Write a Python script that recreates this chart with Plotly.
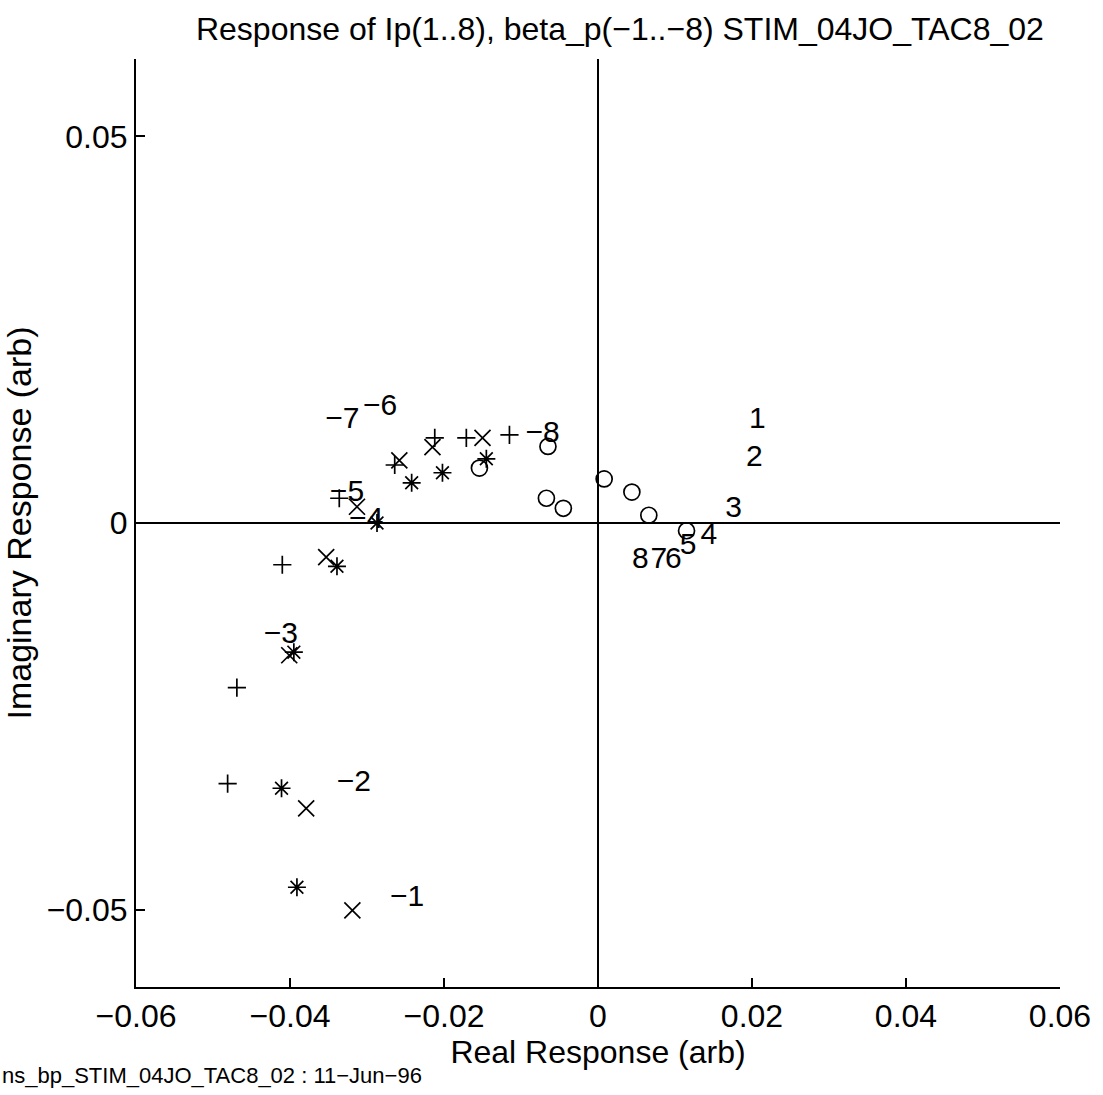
import plotly.graph_objects as go

# Ip(1..8) responses (open circles)
ip_re = [-0.0154, -0.0065, -0.0067, -0.0045, 0.0008, 0.0044, 0.0066, 0.0115]
ip_im = [0.0071, 0.0099, 0.0032, 0.0019, 0.0057, 0.0040, 0.0010, -0.0010]

# beta_p responses: three marker sets
plus_re = [-0.0481, -0.0469, -0.0410, -0.0336, -0.0264, -0.0212, -0.0171, -0.0115]
plus_im = [-0.0337, -0.0213, -0.0054, 0.0032, 0.0075, 0.0110, 0.0110, 0.0114]

x_re = [-0.0319, -0.0379, -0.0401, -0.0353, -0.0313, -0.0258, -0.0215, -0.0150]
x_im = [-0.0501, -0.0369, -0.0171, -0.0044, 0.0021, 0.0081, 0.0098, 0.0110]

ast_re = [-0.0391, -0.0411, -0.0395, -0.0339, -0.0287, -0.0242, -0.0202, -0.0145]
ast_im = [-0.0471, -0.0343, -0.0167, -0.0056, 0.0000, 0.0052, 0.0065, 0.0083]

# text labels
pos_labels = ["1", "2", "3", "4", "5", "6", "7", "8"]
pos_lab_re = [0.0207, 0.0203, 0.0176, 0.0144, 0.0117, 0.0098, 0.0079, 0.0055]
pos_lab_im = [0.0133, 0.0083, 0.0018, -0.0018, -0.0031, -0.0048, -0.0048, -0.0048]

neg_labels = ["\u22121", "\u22122", "\u22123", "\u22124", "\u22125", "\u22126", "\u22127", "\u22128"]
neg_lab_re = [-0.0248, -0.0317, -0.0412, -0.0301, -0.0326, -0.0283, -0.0332, -0.0072]
neg_lab_im = [-0.0485, -0.0337, -0.0146, 0.0003, 0.0038, 0.0149, 0.0132, 0.0115]

x_ticks = [-0.06, -0.04, -0.02, 0, 0.02, 0.04, 0.06]
x_ticktext = ["\u22120.06", "\u22120.04", "\u22120.02", "0", "0.02", "0.04", "0.06"]
y_ticks = [-0.05, 0, 0.05]
y_ticktext = ["\u22120.05", "0", "0.05"]

FONT = "Liberation Sans, Arial, Helvetica, sans-serif"
mk_line = dict(color="black", width=1.7)

fig = go.Figure()
fig.add_trace(go.Scatter(x=ip_re, y=ip_im, mode="markers",
                         marker=dict(symbol="circle-open", size=16, color="black", line=mk_line)))
fig.add_trace(go.Scatter(x=plus_re, y=plus_im, mode="markers",
                         marker=dict(symbol="cross-thin-open", size=13, color="black", line=mk_line)))
fig.add_trace(go.Scatter(x=x_re, y=x_im, mode="markers",
                         marker=dict(symbol="x-thin-open", size=16, color="black", line=mk_line)))
fig.add_trace(go.Scatter(x=ast_re, y=ast_im, mode="markers",
                         marker=dict(symbol="asterisk-open", size=15, color="black", line=mk_line)))
fig.add_trace(go.Scatter(x=pos_lab_re, y=pos_lab_im, mode="text", text=pos_labels,
                         textposition="middle center",
                         textfont=dict(family=FONT, size=30, color="black")))
fig.add_trace(go.Scatter(x=neg_lab_re, y=neg_lab_im, mode="text", text=neg_labels,
                         textposition="middle center",
                         textfont=dict(family=FONT, size=30, color="black")))

fig.update_layout(
    width=1103, height=1095,
    margin=dict(l=136, r=41, t=59, b=108),
    paper_bgcolor="white", plot_bgcolor="white",
    showlegend=False,
    font=dict(family=FONT, color="black", size=32),
    title=dict(text="Response of Ip(1..8), beta_p(\u22121..\u22128) STIM_04JO_TAC8_02",
               x=0.562, xanchor="center", y=0.984, yanchor="top",
               font=dict(size=32)),
    xaxis=dict(range=[-0.06, 0.06], tickvals=x_ticks, ticktext=x_ticktext,
               showgrid=False, zeroline=True, zerolinecolor="black", zerolinewidth=2,
               showline=True, linecolor="black", linewidth=2, mirror=False,
               ticks="inside", ticklen=9, tickwidth=2, tickcolor="black",
               tickfont=dict(size=32),
               title=dict(text="Real Response (arb)", font=dict(size=32), standoff=4)),
    yaxis=dict(range=[-0.06, 0.06], tickvals=y_ticks, ticktext=y_ticktext,
               showgrid=False, zeroline=True, zerolinecolor="black", zerolinewidth=2,
               showline=True, linecolor="black", linewidth=2, mirror=False,
               ticks="inside", ticklen=9, tickwidth=2, tickcolor="black",
               tickfont=dict(size=32),
               title=dict(text="Imaginary Response (arb)", font=dict(size=34), standoff=6)),
)

fig.add_annotation(text="ns_bp_STIM_04JO_TAC8_02 : 11\u2212Jun\u221296",
                   xref="paper", yref="paper", x=-136/926, y=-88/928,
                   xanchor="left", yanchor="middle", showarrow=False,
                   font=dict(size=22, family=FONT, color="black"))

fig.write_html("out.html")
